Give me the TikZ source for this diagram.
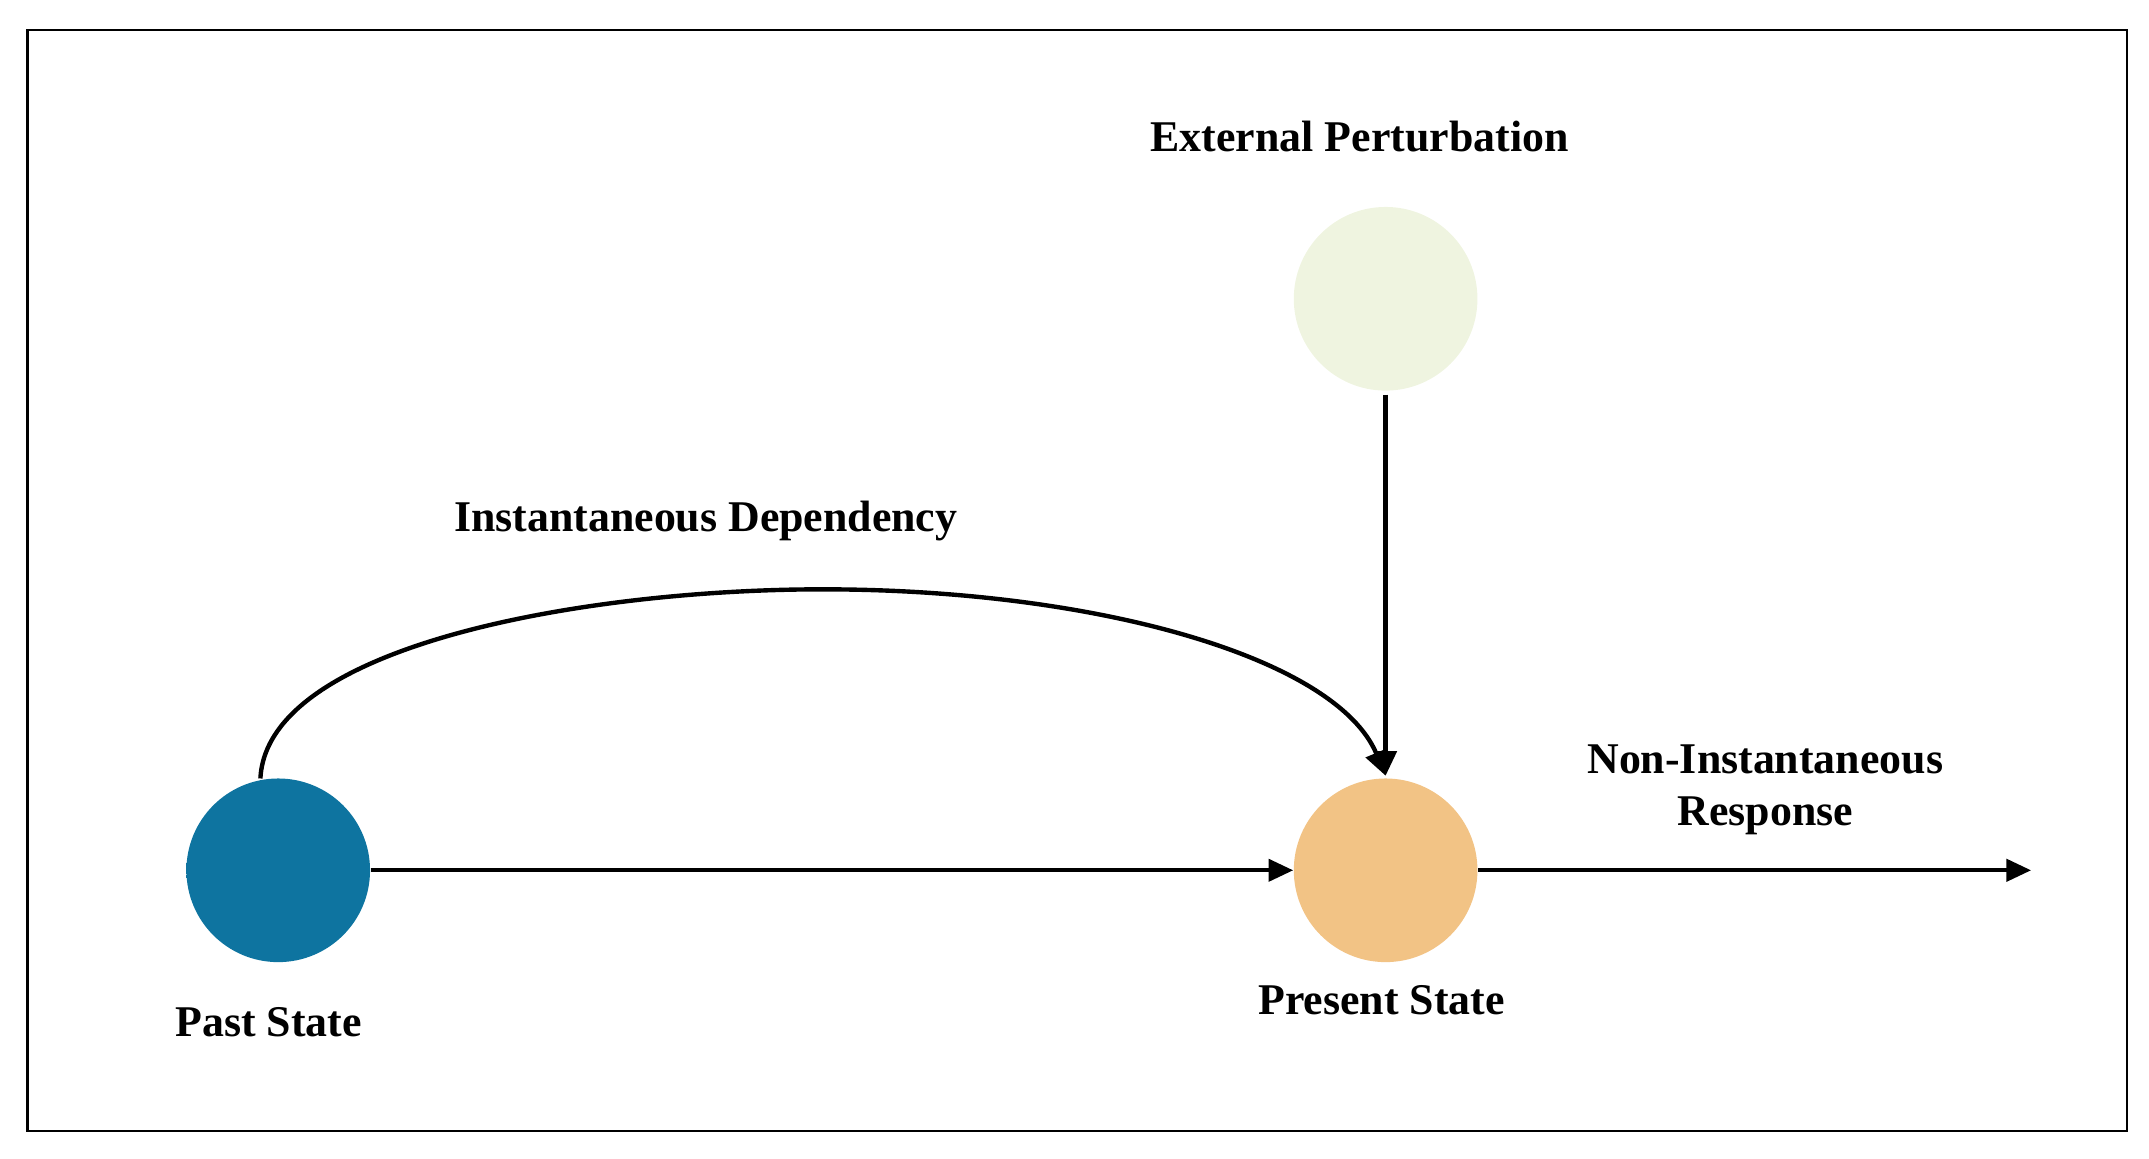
\documentclass[tikz,border=0pt]{standalone}
\usepackage{fontspec}
\setmainfont{Liberation Serif}
\usetikzlibrary{arrows.meta}
\definecolor{pastc}{HTML}{0E74A0}\definecolor{pastd}{HTML}{0A3F58}
\definecolor{presc}{HTML}{F2C385}\definecolor{presd}{HTML}{7A6040}
\definecolor{extc}{HTML}{EFF4E0}\definecolor{extd}{HTML}{8A8E80}
\pgfdeclareradialshading{pastS}{\pgfpoint{-7bp}{7bp}}{color(0bp)=(pastc);color(44bp)=(pastc);color(56bp)=(pastd);color(60bp)=(pastd)}
\pgfdeclareradialshading{presS}{\pgfpoint{-7bp}{7bp}}{color(0bp)=(presc);color(44bp)=(presc);color(56bp)=(presd);color(60bp)=(presd)}
\pgfdeclareradialshading{extS}{\pgfpoint{-7bp}{7bp}}{color(0bp)=(extc);color(44bp)=(extc);color(56bp)=(extd);color(60bp)=(extd)}
\begin{document}
\begin{tikzpicture}[x=0.5pt,y=0.5pt,
  ball/.style={circle,minimum size=134pt*0.5,inner sep=0pt},
  lab/.style={font=\bfseries\fontsize{16}{19}\selectfont,align=center},
  arr/.style={line width=1.6pt,-{Triangle[length=9pt,width=8pt]}}]
\useasboundingbox (0,0) rectangle (1568,-845);
\draw[line width=0.8pt] (20,-22) rectangle (1552,-825);
\shade[shading=pastS] (203,-635) circle (67);
\shade[shading=presS] (1011,-635) circle (67);
\shade[shading=extS] (1011,-218) circle (67);
\node[ball] (past) at (203,-635) {};
\node[ball] (pres) at (1011,-635) {};
\node[ball] (ext) at (1011,-218) {};
\coordinate (out) at (1482,-635);
\coordinate (ctop) at (1011,-566);
\coordinate (cst) at (190,-568);
\node[lab] (lext) at (992,-100) {External Perturbation};
\node[lab] (linst) at (515,-380) {Instantaneous Dependency};
\node[lab] (lpast) at (196,-746) {Past State};
\node[lab] (lpres) at (1008,-730) {Present State};
\node[lab] (lnon) at (1288,-576) {Non-Instantaneous\\Response};
\draw[arr] (past.east) -- (pres.west);
\draw[arr] (pres.east) -- (out);
\draw[arr] (1011,-288) -- (ctop);
\draw[arr] (cst) .. controls (195,-470) and (430,-430) .. (600,-430) .. controls (800,-430) and (975,-480) .. (ctop);
\end{tikzpicture}
\end{document}
